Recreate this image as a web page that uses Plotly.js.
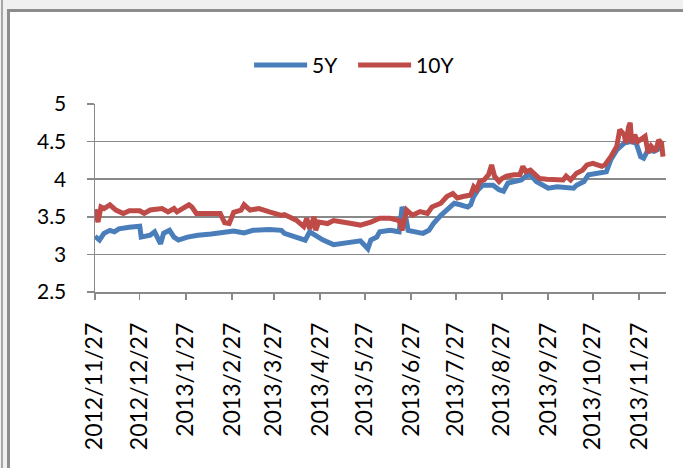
<!DOCTYPE html>
<html>
<head>
<meta charset="utf-8">
<script src="https://cdn.plot.ly/plotly-3.0.1.min.js"></script>
<style>
  html, body { margin: 0; padding: 0; background: #f0f0f0; width: 683px; height: 468px; overflow: hidden; }
  #edge { position: absolute; left: 1px; top: 0; width: 2px; height: 468px; background: #a6a6a6; }
  #frame { position: absolute; left: 7px; top: 9px; border-left: 3px solid #8c8c8c; border-top: 3px solid #8c8c8c; background: #fff; }
  #chart { width: 673px; height: 456px; }
</style>
</head>
<body>
<div id="edge"></div>
<div id="frame"><div id="chart"></div></div>
<script>
const seriesNames = ["5Y", "10Y"];

const dates5Y = [
  "2012-11-27","2012-11-30","2012-12-03","2012-12-07","2012-12-10","2012-12-13","2012-12-20","2012-12-27","2012-12-28",
  "2013-01-03","2013-01-06","2013-01-10","2013-01-12","2013-01-16","2013-01-19","2013-01-22","2013-01-28",
  "2013-02-04","2013-02-13","2013-02-22","2013-02-28","2013-03-07","2013-03-13","2013-03-24","2013-03-29",
  "2013-04-01","2013-04-03","2013-04-07","2013-04-11","2013-04-13","2013-04-17","2013-04-20","2013-04-25","2013-04-29",
  "2013-05-06","2013-05-15","2013-05-24","2013-05-29","2013-05-31",
  "2013-06-04","2013-06-06","2013-06-13","2013-06-19","2013-06-21","2013-06-23","2013-06-25","2013-06-29",
  "2013-07-05","2013-07-09","2013-07-12","2013-07-17","2013-07-21","2013-07-26","2013-07-30",
  "2013-08-04","2013-08-06","2013-08-08","2013-08-11","2013-08-14","2013-08-18","2013-08-21","2013-08-25","2013-08-28","2013-08-31",
  "2013-09-05","2013-09-09","2013-09-12","2013-09-15","2013-09-19","2013-09-24","2013-09-27",
  "2013-10-03","2013-10-09","2013-10-14","2013-10-16","2013-10-21","2013-10-24","2013-10-29",
  "2013-11-02","2013-11-05","2013-11-08","2013-11-12","2013-11-17","2013-11-21","2013-11-25","2013-11-28","2013-11-30",
  "2013-12-03","2013-12-07","2013-12-11","2013-12-13"
];
const values5Y = [
  3.24,3.19,3.28,3.32,3.30,3.34,3.36,3.375,3.23,
  3.255,3.30,3.14,3.28,3.32,3.23,3.19,3.23,
  3.255,3.27,3.285,3.31,3.285,3.32,3.33,3.33,
  3.32,3.28,3.255,3.245,3.22,3.19,3.30,3.23,3.19,
  3.13,3.15,3.18,3.075,3.19,
  3.23,3.30,3.32,3.30,3.63,3.545,3.32,3.30,
  3.28,3.32,3.41,3.52,3.59,3.68,3.66,
  3.63,3.66,3.77,3.86,3.92,3.92,3.92,3.86,3.84,3.95,
  3.97,3.99,4.04,4.06,3.97,3.92,3.88,
  3.90,3.89,3.88,3.92,3.97,4.06,4.08,
  4.08,4.10,4.26,4.39,4.48,4.50,4.48,4.30,4.28,
  4.39,4.37,4.41,4.41
];

const dates10Y = [
  "2012-11-27","2012-11-29","2012-12-01","2012-12-03","2012-12-07","2012-12-11","2012-12-16","2012-12-20","2012-12-27","2012-12-30",
  "2013-01-03","2013-01-11","2013-01-15","2013-01-19","2013-01-21","2013-01-27","2013-01-29","2013-01-31",
  "2013-02-03","2013-02-19","2013-02-22","2013-02-25","2013-02-28","2013-03-05","2013-03-07","2013-03-11","2013-03-17","2013-03-24","2013-03-29",
  "2013-04-01","2013-04-03","2013-04-07","2013-04-11","2013-04-16","2013-04-18","2013-04-20","2013-04-23","2013-04-24","2013-04-26",
  "2013-05-02","2013-05-06","2013-05-15","2013-05-24","2013-05-31",
  "2013-06-06","2013-06-13","2013-06-19","2013-06-21","2013-06-23","2013-06-24","2013-06-28",
  "2013-07-03","2013-07-08","2013-07-11","2013-07-17","2013-07-21","2013-07-25","2013-07-28",
  "2013-08-01","2013-08-04","2013-08-06","2013-08-08","2013-08-10","2013-08-12","2013-08-15","2013-08-18","2013-08-20","2013-08-22","2013-08-25","2013-08-27","2013-08-30",
  "2013-09-04","2013-09-08","2013-09-10","2013-09-12","2013-09-15","2013-09-18","2013-09-21","2013-09-26",
  "2013-10-03","2013-10-07","2013-10-09","2013-10-12","2013-10-16","2013-10-20","2013-10-23","2013-10-27","2013-10-30",
  "2013-11-02","2013-11-04","2013-11-08","2013-11-12","2013-11-14","2013-11-17","2013-11-18","2013-11-20","2013-11-21","2013-11-22","2013-11-24","2013-11-26","2013-11-29",
  "2013-12-01","2013-12-03","2013-12-05","2013-12-08","2013-12-10","2013-12-12","2013-12-13"
];
const values10Y = [
  3.60,3.43,3.63,3.61,3.66,3.59,3.545,3.58,3.58,3.545,
  3.59,3.61,3.565,3.61,3.565,3.625,3.66,3.63,
  3.545,3.545,3.42,3.41,3.56,3.59,3.66,3.59,3.61,3.565,3.545,
  3.52,3.53,3.50,3.455,3.37,3.48,3.34,3.50,3.32,3.43,
  3.41,3.45,3.42,3.39,3.43,
  3.48,3.48,3.45,3.32,3.52,3.59,3.52,
  3.57,3.545,3.63,3.68,3.77,3.81,3.75,
  3.77,3.79,3.79,3.90,3.86,3.97,3.99,4.06,4.19,4.04,3.97,4.01,4.04,
  4.06,4.06,4.17,4.10,4.12,4.06,4.01,4.00,
  3.99,3.99,4.04,3.99,4.08,4.12,4.19,4.21,4.19,
  4.17,4.19,4.30,4.44,4.66,4.59,4.48,4.70,4.75,4.48,4.59,4.50,4.55,
  4.57,4.35,4.44,4.37,4.52,4.48,4.30
];

const tickDates = ["2012-11-27","2012-12-27","2013-01-27","2013-02-27","2013-03-27","2013-04-27","2013-05-27",
                   "2013-06-27","2013-07-27","2013-08-27","2013-09-27","2013-10-27","2013-11-27"];
const tickLabels = ["2012/11/27","2012/12/27","2013/1/27","2013/2/27","2013/3/27","2013/4/27","2013/5/27",
                    "2013/6/27","2013/7/27","2013/8/27","2013/9/27","2013/10/27","2013/11/27"];
const yTicks = [2.5, 3, 3.5, 4, 4.5, 5];
const yTickLabels = ["2.5", "3", "3.5", "4", "4.5", "5"];

const gridColor = "#898989";
const fontFam = "Lato, 'Open Sans', sans-serif";

const traces = [
  { x: dates5Y, y: values5Y, name: seriesNames[0], type: "scatter", mode: "lines",
    line: { color: "#4a7ebb", width: 5 } },
  { x: dates10Y, y: values10Y, name: seriesNames[1], type: "scatter", mode: "lines",
    line: { color: "#be4b48", width: 5 } }
];

const layout = {
  width: 673, height: 456,
  margin: { l: 85, r: 17, t: 92.3, b: 176.3, pad: 0 },
  paper_bgcolor: "#ffffff",
  plot_bgcolor: "#ffffff",
  font: { family: fontFam, color: "#000000", size: 21 },
  showlegend: true,
  legend: { orientation: "h", x: 0.452, xanchor: "center", y: 1.205, yanchor: "middle",
            font: { family: fontFam, size: 21, color: "#000" }, bgcolor: "rgba(0,0,0,0)",
            itemwidth: 53, entrywidth: 36, entrywidthmode: "pixels", tracegroupgap: 0 },
  xaxis: {
    type: "date",
    range: ["2012-11-27", "2013-12-15"],
    tickmode: "array", tickvals: tickDates, ticktext: tickLabels,
    tickangle: -90,
    ticks: "outside", ticklen: 6, tickwidth: 1.5, tickcolor: gridColor,
    showgrid: false, zeroline: false,
    showline: true, linecolor: gridColor, linewidth: 1.5,
    tickfont: { family: fontFam, size: 23, color: "#000" },
    ticklabelstandoff: 14
  },
  yaxis: {
    range: [2.5, 5],
    tickmode: "array", tickvals: yTicks, ticktext: yTickLabels,
    ticks: "outside", ticklen: 7, tickwidth: 1.5, tickcolor: gridColor,
    showgrid: true, gridcolor: gridColor, gridwidth: 1.5,
    zeroline: false,
    showline: true, linecolor: gridColor, linewidth: 1.5,
    tickfont: { family: fontFam, size: 21, color: "#000" },
    ticklabelstandoff: 16
  }
};

Plotly.newPlot("chart", traces, layout, { staticPlot: true, displayModeBar: false });
</script>
</body>
</html>
